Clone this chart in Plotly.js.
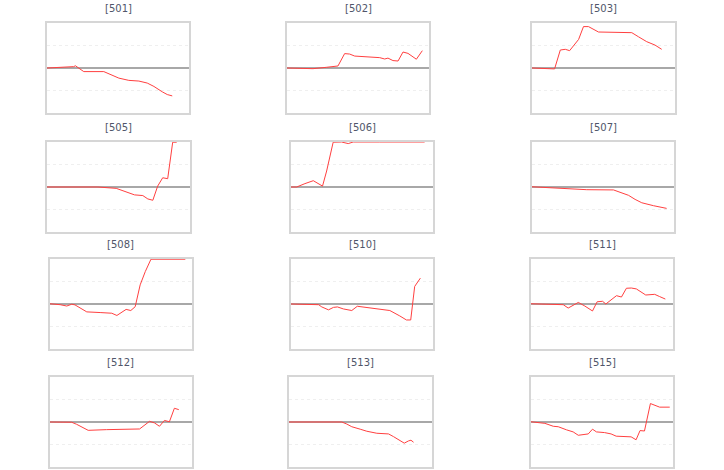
<!DOCTYPE html>
<html>
<head>
<meta charset="utf-8">
<script src="https://cdn.plot.ly/plotly-3.0.1.min.js"></script>
<style>
html,body{margin:0;padding:0;background:#fff;}
#chart{width:724px;height:470px;}
</style>
</head>
<body>
<div id="chart"></div>
<script>
// Panel labels
const labels = ["[501]","[502]","[503]","[505]","[506]","[507]","[508]","[510]","[511]","[512]","[513]","[515]"];

// Series: x = position along the period (0-100), y = value
const x501 = [0,18.8,20,25.9,40,43.5,50.6,57.6,64.7,70.6,75.3,81.2,84.7,88.2];
const y501 = [0,0.06,0.10,-0.16,-0.16,-0.25,-0.45,-0.55,-0.58,-0.67,-0.82,-1.06,-1.18,-1.24];

const x502 = [0,8.9,18.3,27.7,35.9,40.6,44.1,47.7,57.0,65.3,68.8,71.1,74.6,78.2,81.7,85.2,91.1,95.3];
const y502 = [0,-0.01,-0.03,0.03,0.09,0.64,0.62,0.53,0.50,0.46,0.40,0.44,0.33,0.31,0.71,0.65,0.39,0.77];

const x503 = [0,8.1,15.8,19.8,23.3,26.3,32.6,36.0,39.5,46.5,52.3,59.3,69.8,74.4,80.2,86.0,90.7];
const y503 = [0,-0.01,-0.04,0.80,0.83,0.77,1.27,1.84,1.84,1.60,1.60,1.58,1.57,1.39,1.17,1.02,0.83];

const x505 = [0,18.1,35.6,48.4,54.2,61.2,67.0,70.5,74.0,77.4,80.9,84.4,87.9,90.7];
const y505 = [0,0,0,-0.06,-0.18,-0.35,-0.38,-0.53,-0.59,0.04,0.41,0.37,1.99,1.99];

const x506 = [0,4.0,9.8,15.7,22.2,25.1,29.7,35.6,40.3,43.8,62.5,94.1];
const y506 = [0,0,0.15,0.28,0.04,0.71,1.99,2.0,1.93,2.0,2.0,2.0];

const x507 = [0,15.2,26.9,38.6,57.4,62.1,68.0,72.6,77.3,85.5,94.8];
const y507 = [0.01,-0.04,-0.10,-0.12,-0.13,-0.25,-0.37,-0.55,-0.70,-0.83,-0.95];

const x508 = [0,7.1,11.8,15.3,17.6,25.9,35.3,43.5,47.1,50.6,53.6,56.9,60.0,63.5,67.1,71.1,95.3];
const y508 = [0.01,-0.03,-0.09,-0.01,-0.04,-0.35,-0.38,-0.41,-0.51,-0.37,-0.24,-0.29,-0.12,0.85,1.44,1.99,1.99];

const x510 = [0,11.2,19.4,21.7,26.4,29.9,32.7,36.9,42.8,46.7,53.3,60.3,69.6,76.6,81.3,84.3,87.1,91.1];
const y510 = [0,-0.01,-0.03,-0.13,-0.26,-0.15,-0.13,-0.22,-0.29,-0.10,-0.16,-0.22,-0.29,-0.53,-0.71,-0.71,0.78,1.15];

const x511 = [0,11.0,22.7,26.2,29.7,33.3,37.9,43.3,46.6,50.4,52.7,56.0,60.2,63.7,67.2,70.7,74.2,80.8,84.1,87.1,90.6,94.6];
const y511 = [0.01,-0.01,-0.03,-0.18,-0.04,0.07,-0.09,-0.31,0.10,0.12,0,0.15,0.37,0.31,0.70,0.71,0.67,0.40,0.40,0.43,0.33,0.22];

const x512 = [0,15.2,18.7,26.9,39.7,51.4,63.1,70.1,73.6,77.1,80.6,84.1,87.6,90.7];
const y512 = [0,-0.01,-0.10,-0.37,-0.34,-0.33,-0.31,0.03,-0.04,-0.19,0.07,0.01,0.61,0.55];

const x513 = [0,17.1,36.9,40.4,43.9,49.8,54.4,61.4,69.6,73.1,76.6,80.6,83.6,85.3,87.1];
const y513 = [0,0,0,-0.09,-0.21,-0.32,-0.41,-0.50,-0.53,-0.65,-0.79,-0.94,-0.84,-0.81,-0.90];

const x515 = [0,9.8,15.7,19.2,25.1,29.7,33.3,37.9,40.3,43.3,46.1,51.8,56.4,60.0,70.5,74.0,76.8,79.9,84.1,90.6,97.7];
const y515 = [0.01,-0.06,-0.19,-0.21,-0.35,-0.44,-0.59,-0.54,-0.53,-0.32,-0.44,-0.47,-0.53,-0.63,-0.66,-0.79,-0.38,-0.40,0.82,0.66,0.66];

const xs = [x501,x502,x503,x505,x506,x507,x508,x510,x511,x512,x513,x515];
const ys = [y501,y502,y503,y505,y506,y507,y508,y510,y511,y512,y513,y515];

// panel boxes in pixels: [left, right, top, bottom]
const boxes = [
  [47,189,23,113],[287,429,23,113],[532,675,23,113],
  [47,190,142,232],[291,433,142,232],[532,674,142,232],
  [50,192,259,349],[291,433,259,349],[531,673,259,349],
  [50,192,377,467],[289,432,377,467],[531,673,377,467]
];

const W = 724, H = 470;
const data = [];
const layout = {
  width: W, height: H,
  margin: {l:0,r:0,t:0,b:0},
  paper_bgcolor: '#fff', plot_bgcolor: '#fff',
  showlegend: false,
  annotations: []
};

for (let i = 0; i < labels.length; i++) {
  const n = i + 1;
  const b = boxes[i];
  const xa = 'xaxis' + (n === 1 ? '' : n);
  const ya = 'yaxis' + (n === 1 ? '' : n);
  data.push({
    type: 'scatter', mode: 'lines',
    x: xs[i], y: ys[i],
    xaxis: 'x' + (n === 1 ? '' : n), yaxis: 'y' + (n === 1 ? '' : n),
    line: {color: '#ff4040', width: 1},
    hoverinfo: 'skip'
  });
  layout[xa] = {
    domain: [b[0]/W, b[1]/W],
    range: [0, 100],
    anchor: 'y' + (n === 1 ? '' : n),
    showgrid: false, zeroline: false,
    showticklabels: false, ticks: '',
    showline: true, mirror: true, linecolor: '#d6d6d6', linewidth: 2,
    fixedrange: true
  };
  layout[ya] = {
    domain: [1 - b[3]/H, 1 - b[2]/H],
    range: [-2, 2],
    anchor: 'x' + (n === 1 ? '' : n),
    tickvals: [-1, 0, 1],
    showgrid: true, gridcolor: '#efefef', griddash: 'dot', gridwidth: 1,
    zeroline: true, zerolinecolor: '#a8a8a8', zerolinewidth: 2,
    showticklabels: false, ticks: '',
    showline: true, mirror: true, linecolor: '#d6d6d6', linewidth: 2,
    fixedrange: true
  };
  layout.annotations.push({
    text: labels[i], xref: 'paper', yref: 'paper',
    x: (b[0] + b[1]) / 2 / W, y: 1 - (b[2] - 15) / H,
    xanchor: 'center', yanchor: 'middle', showarrow: false,
    font: {family: 'DejaVu Sans', size: 10, color: '#50566a'}
  });
}

Plotly.newPlot('chart', data, layout, {displayModeBar: false, staticPlot: true});
</script>
</body>
</html>
